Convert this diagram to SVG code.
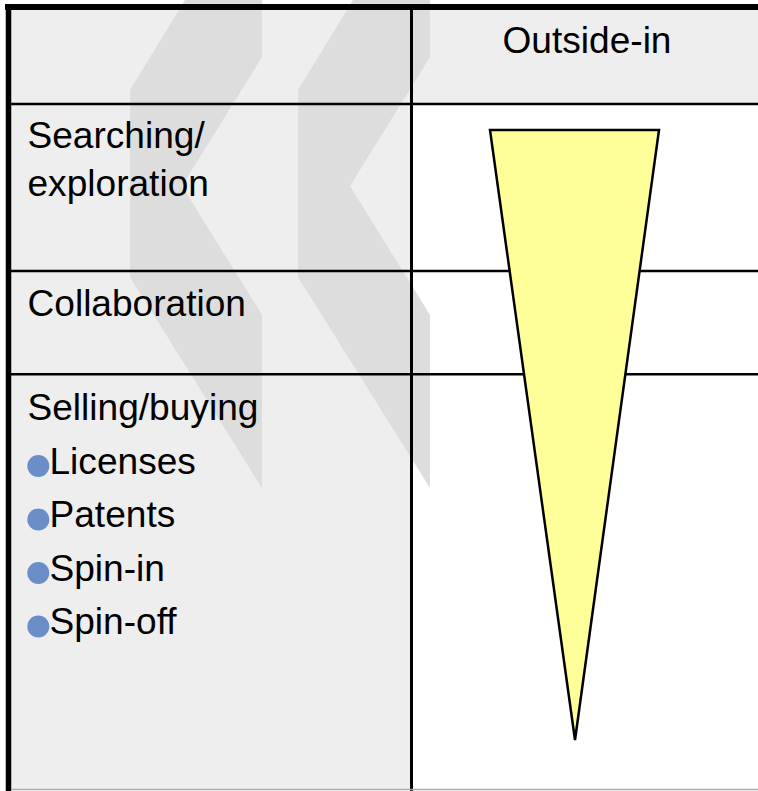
<svg xmlns="http://www.w3.org/2000/svg" width="758" height="791" viewBox="0 0 758 791">
  <style>
    .t { font-family: "Liberation Sans", Arial, sans-serif; font-size: 37.1px; fill: #000; }
    .bg { fill: #eeeeee; }
    .chev { fill: #dddddd; }
    .grid { stroke: #000; fill: none; }
    .bul { fill: #6b8ec8; }
  </style>
  <defs>
    <polygon id="chevron" points="130,90 185,0 262,0 262,57 182,186 262,315 262,488 130,277"/>
  </defs>
  <rect x="0" y="0" width="758" height="791" fill="#ffffff"/>
  <g id="backgrounds">
    <rect class="bg" x="11" y="10" width="400" height="780"/>
    <rect class="bg" x="411" y="10" width="347" height="94"/>
  </g>
  <g id="watermark">
    <use href="#chevron" class="chev"/>
    <use href="#chevron" class="chev" x="168"/>
  </g>
  <g id="grid">
    <line class="grid" x1="5" y1="7" x2="758" y2="7" stroke-width="6"/>
    <line class="grid" x1="8.5" y1="4" x2="8.5" y2="791" stroke-width="5.5"/>
    <line class="grid" x1="411.5" y1="4" x2="411.5" y2="791" stroke-width="3"/>
    <line class="grid" x1="11" y1="104" x2="758" y2="104" stroke-width="2.5"/>
    <line class="grid" x1="11" y1="271" x2="758" y2="271" stroke-width="2.5"/>
    <line class="grid" x1="11" y1="374.3" x2="758" y2="374.3" stroke-width="2.5"/>
    <line x1="11" y1="789.5" x2="758" y2="789.5" stroke="#aaaaaa" stroke-width="1.5"/>
  </g>
  <g id="triangle">
    <polygon points="490,130 659,130 575,740" fill="#ffff99" stroke="#000" stroke-width="2.5" stroke-linejoin="miter"/>
  </g>
  <g id="header">
    <text class="t" x="587" y="53" text-anchor="middle">Outside-in</text>
  </g>
  <g id="row-searching">
    <text class="t" x="27.5" y="148">Searching/</text>
    <text class="t" x="27.5" y="196">exploration</text>
  </g>
  <g id="row-collaboration">
    <text class="t" x="27.5" y="316">Collaboration</text>
  </g>
  <g id="row-selling">
    <text class="t" x="27.5" y="420">Selling/buying</text>
    <circle class="bul" cx="38.3" cy="466" r="11"/>
    <text class="t" x="49.5" y="473.5">Licenses</text>
    <circle class="bul" cx="38.3" cy="519.5" r="11"/>
    <text class="t" x="49.5" y="527">Patents</text>
    <circle class="bul" cx="38.3" cy="573" r="11"/>
    <text class="t" x="49.5" y="580.5">Spin-in</text>
    <circle class="bul" cx="38.3" cy="626.5" r="11"/>
    <text class="t" x="49.5" y="634">Spin-off</text>
  </g>
</svg>
